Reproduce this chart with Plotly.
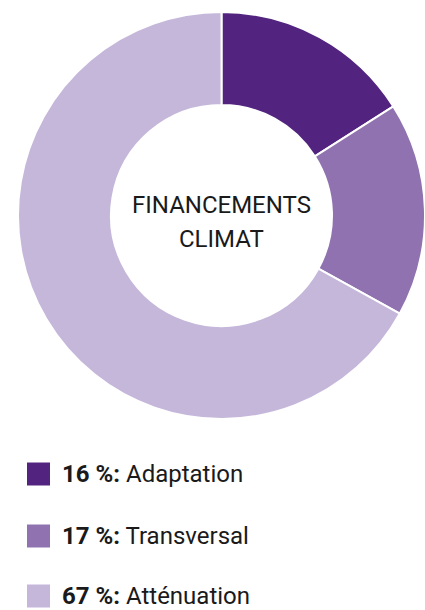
import plotly.graph_objects as go

categories = ["Adaptation", "Transversal", "Atténuation"]
values = [16, 17, 67]
pct_labels = ["16 %:", "17 %:", "67 %:"]
colors = ["#52247F", "#8F72AF", "#C5B7DA"]
center_lines = ["FINANCEMENTS", "CLIMAT"]

W, H = 425, 610

fig = go.Figure()
fig.add_trace(go.Pie(
    labels=categories,
    values=values,
    hole=0.543,
    sort=False,
    direction="clockwise",
    rotation=0,
    marker=dict(colors=colors, line=dict(color="white", width=2)),
    textinfo="none",
    hoverinfo="label+percent",
    showlegend=False,
    domain=dict(x=[18 / W, 1.0], y=[(H - 419) / H, (H - 12) / H]),
))

font_fam = "Roboto, 'Noto Sans', sans-serif"

for line, yc in zip(center_lines, [205, 239]):
    fig.add_annotation(
        x=221.5 / W, y=(H - yc) / H, xref="paper", yref="paper",
        text=line, showarrow=False,
        font=dict(family=font_fam, size=24, color="#1a1a1a"),
        align="center", xanchor="center", yanchor="middle",
    )

row_y = [474, 536, 596]
shapes = []
for i, (cat, pct, col) in enumerate(zip(categories, pct_labels, colors)):
    yc = row_y[i]
    shapes.append(dict(
        type="rect", xref="paper", yref="paper",
        x0=27 / W, x1=50 / W, y0=(H - yc - 11.5) / H, y1=(H - yc + 11.5) / H,
        fillcolor=col, line=dict(width=0),
    ))
    fig.add_annotation(
        x=60 / W, y=(H - yc) / H, xref="paper", yref="paper",
        text=f"<b>{pct}</b> {cat}", showarrow=False,
        font=dict(family=font_fam, size=24, color="#1a1a1a"),
        xanchor="left", yanchor="middle", align="left",
    )

fig.update_layout(
    width=W, height=H,
    margin=dict(l=0, r=0, t=0, b=0),
    paper_bgcolor="white", plot_bgcolor="white",
    shapes=shapes,
)

fig.write_html(
    "out.html",
    config={"displayModeBar": False},
    post_script="document.body.style.margin='0';document.body.style.overflow='hidden';",
)
